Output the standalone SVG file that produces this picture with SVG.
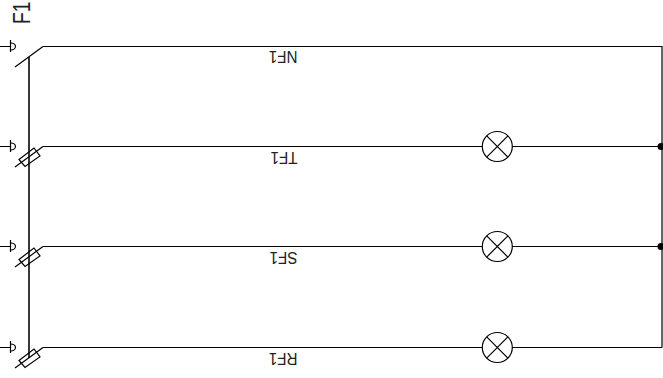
<svg xmlns="http://www.w3.org/2000/svg" width="663" height="378" viewBox="0 0 663 378">
<style>
.w{fill:none;stroke:#000;stroke-width:1.2}
.b{fill:none;stroke:#222;stroke-width:1.8}
text{font-family:"Liberation Sans",Arial,sans-serif;font-size:16px;fill:#222}
.big{font-size:23px}
</style>
<defs>
<g id="term"><path class="w" d="M0 0.500H10M10.500 -6V6"/><path class="w" d="M10.500 -3A5 3.500 0 1 1 10.500 4"/></g>
<g id="fuse"><path class="w" d="M15 20.500L43 0"/><path class="w" d="M19 13L34 1.500L40 9.400L25 20Z"/></g>
<g id="lamp"><circle class="w" r="15"/><path class="w" d="M-10.600 -10.600L10.600 10.600M-10.600 10.600L10.600 -10.600"/></g>
</defs>
<g id="connectors">
<path class="b" d="M29 57V358"/>
<path class="w" d="M43 46.500H662V347.500"/>
<path class="w" d="M43 146.500H482M512 146.500H662"/>
<path class="w" d="M43 246.500H482M512 246.500H662"/>
<path class="w" d="M43 347.500H482M512 347.500H662"/>
<path class="w" d="M15 67L43 46.500"/>
</g>
<g id="F1"><text class="big" transform="translate(30 24) rotate(-90) scale(0.83 1)">F1</text><use href="#term" transform="translate(0 46)"/></g>
<g id="TF1"><use href="#term" transform="translate(0 146)"/><use href="#fuse" transform="translate(0 146.500)"/></g>
<g id="SF1"><use href="#term" transform="translate(0 246)"/><use href="#fuse" transform="translate(0 246.500)"/></g>
<g id="RF1"><use href="#term" transform="translate(0 347)"/><use href="#fuse" transform="translate(0 347.500)"/></g>
<g id="lamp1"><use href="#lamp" transform="translate(497.300 146.500)"/></g>
<g id="lamp2"><use href="#lamp" transform="translate(497.300 246.500)"/></g>
<g id="lamp3"><use href="#lamp" transform="translate(497.300 347.500)"/></g>
<g id="dot1"><circle cx="661" cy="146.500" r="3.500"/></g>
<g id="dot2"><circle cx="661" cy="246.500" r="3.500"/></g>
<g id="label-NF1"><text transform="translate(297.500 51) rotate(180) scale(0.95 1)">NF1</text></g>
<g id="label-TF1"><text transform="translate(297.500 152) rotate(180) scale(0.95 1)">TF1</text></g>
<g id="label-SF1"><text transform="translate(297.500 252) rotate(180) scale(0.95 1)">SF1</text></g>
<g id="label-RF1"><text transform="translate(297.500 352.500) rotate(180) scale(0.95 1)">RF1</text></g>
</svg>
